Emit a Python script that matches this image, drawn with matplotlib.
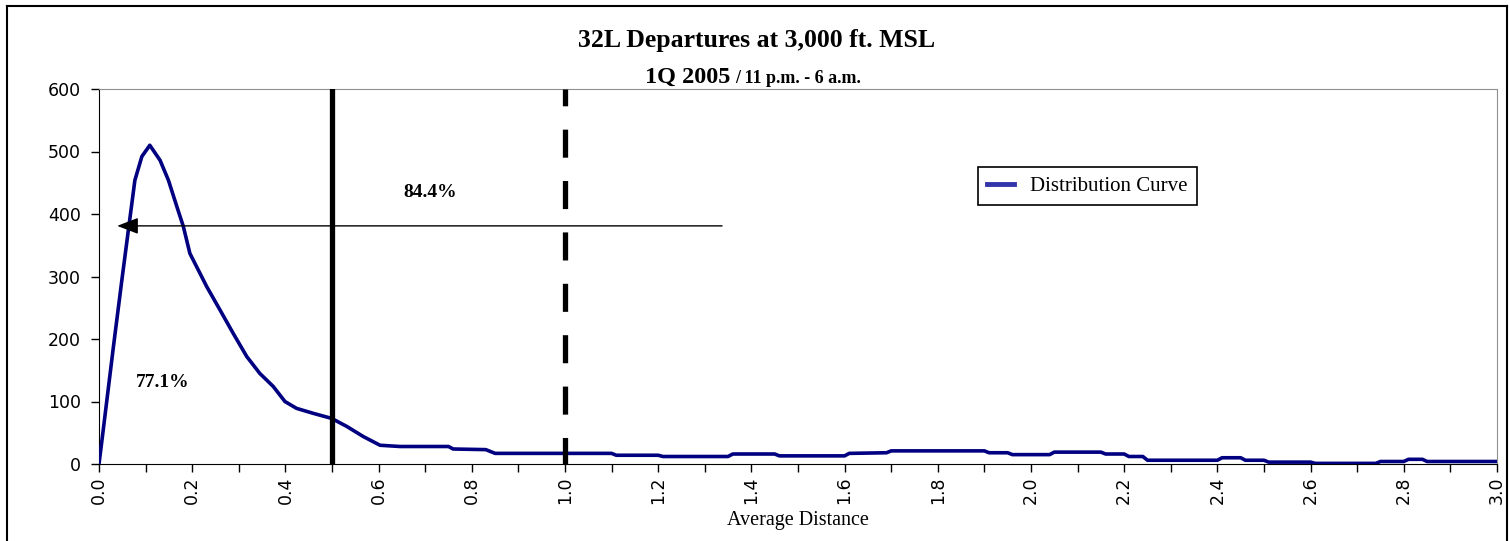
"""32L departures distribution curve, 1Q 2005 night hours"""

import matplotlib
matplotlib.use('Agg')
import matplotlib.pyplot as plt
from matplotlib.lines import Line2D

plt.rcParams['lines.scale_dashes'] = False

# curve
dist = [0.0, 0.009, 0.031, 0.049, 0.063, 0.077, 0.092, 0.109, 0.131, 0.149,
        0.167, 0.181, 0.195, 0.231, 0.260, 0.288, 0.317, 0.345, 0.374, 0.399,
        0.424, 0.460, 0.499, 0.532, 0.567, 0.603, 0.646, 0.75, 0.76, 0.83,
        0.85, 1.10, 1.11, 1.20, 1.21, 1.35, 1.36, 1.45, 1.46, 1.60,
        1.61, 1.69, 1.70, 1.90, 1.91, 1.95, 1.96, 2.04, 2.05, 2.15,
        2.16, 2.20, 2.21, 2.24, 2.25, 2.40, 2.41, 2.45, 2.46, 2.50,
        2.51, 2.60, 2.61, 2.74, 2.75, 2.80, 2.81, 2.84, 2.85, 3.0]
count = [0, 54, 188, 294, 374, 454, 492, 510, 486, 454,
         412, 380, 337, 284, 246, 209, 172, 145, 124, 100,
         89, 81, 73, 60, 44, 30, 28, 28, 24, 23,
         17, 17, 14, 14, 12, 12, 16, 16, 13, 13,
         17, 18, 21, 21, 18, 18, 15, 15, 19, 19,
         16, 16, 12, 12, 6, 6, 10, 10, 6, 6,
         3, 3, 1, 1, 4, 4, 7.5, 7.5, 4, 4]

solid_x = 0.5
dashed_x = 1.0
arrow_y = 381
arrow_from = 1.337
arrow_to = 0.039
pct_labels = ['84.4%', '77.1%']
pct_pos = [(0.71, 434), (0.137, 131)]

serif = 'Liberation Serif'

fig = plt.figure(figsize=(15.1, 5.41), dpi=100)
ax = fig.add_axes([99 / 1510, 1 - 464 / 541, 1398 / 1510, 375 / 541])

ax.plot(dist, count, color='#000080', lw=2.6, label='Distribution Curve', zorder=3)

ax.plot([solid_x, solid_x], [600, 0], color='black', lw=3.8, zorder=4)
ax.plot([dashed_x, dashed_x], [600, 0], color='black', lw=3.8,
        linestyle=(8.1, (20.2, 16.8)), zorder=4)

ax.annotate('', xy=(arrow_to, arrow_y), xytext=(arrow_from, arrow_y),
            arrowprops=dict(arrowstyle='-|>,head_length=1.3,head_width=0.5',
                            color='black', lw=1, shrinkA=0, shrinkB=0,
                            mutation_scale=10))

for txt, (px, py) in zip(pct_labels, pct_pos):
    ax.text(px, py, txt, fontsize=14, fontweight='bold', family=serif,
            ha='center', va='center')

ax.set_xlim(0, 3.0)
ax.set_ylim(0, 600)
ax.set_yticks(range(0, 601, 100))
ax.set_xticks([i / 10 for i in range(0, 31, 2)])
ax.set_xticks([i / 10 for i in range(1, 31, 2)], minor=True)
ax.set_xticklabels(['%.1f' % (i / 10) for i in range(0, 31, 2)], rotation=90)
ax.tick_params(axis='both', which='both', direction='out', length=6, width=1,
               labelsize=12.5, colors='black')
ax.tick_params(axis='y', pad=7)
ax.tick_params(axis='x', pad=3)
for s in ['top', 'right']:
    ax.spines[s].set_color('#909090')
for s in ['left', 'bottom']:
    ax.spines[s].set_color('black')

ax.set_xlabel('Average Distance', family=serif, fontsize=14.5, labelpad=5)

leg = ax.legend(loc='upper left', bbox_to_anchor=(978 / 1510, 1 - 167 / 541),
                bbox_transform=fig.transFigure, frameon=True, fancybox=False,
                edgecolor='black', framealpha=1, borderaxespad=0,
                prop={'family': serif, 'size': 15}, handlelength=1.3,
                borderpad=0.45, handletextpad=0.75)
leg.get_frame().set_linewidth(1.2)
leg.get_lines()[0].set_color('#3333aa')
leg.get_lines()[0].set_linewidth(3.5)

# titles
fig.text(757 / 1510, 1 - 47 / 541, '32L Departures at 3,000 ft. MSL',
         family=serif, fontweight='bold', fontsize=18.5, ha='center', va='baseline')
fig.text(730 / 1510, 1 - 83 / 541, '1Q 2005', family=serif, fontweight='bold',
         fontsize=17.5, ha='right', va='baseline')
fig.text(735 / 1510, 1 - 83 / 541, '/ 11 p.m. - 6 a.m.', family=serif,
         fontweight='bold', fontsize=13, ha='left', va='baseline')

# outer frame
for xs, ys in [([7, 7], [6, 541]), ([7, 1507], [6, 6]), ([1507, 1507], [6, 541])]:
    fig.add_artist(Line2D([x / 1510 for x in xs], [1 - y / 541 for y in ys],
                          color='black', lw=1.5, transform=fig.transFigure))

fig.savefig('out.png', dpi=100)
